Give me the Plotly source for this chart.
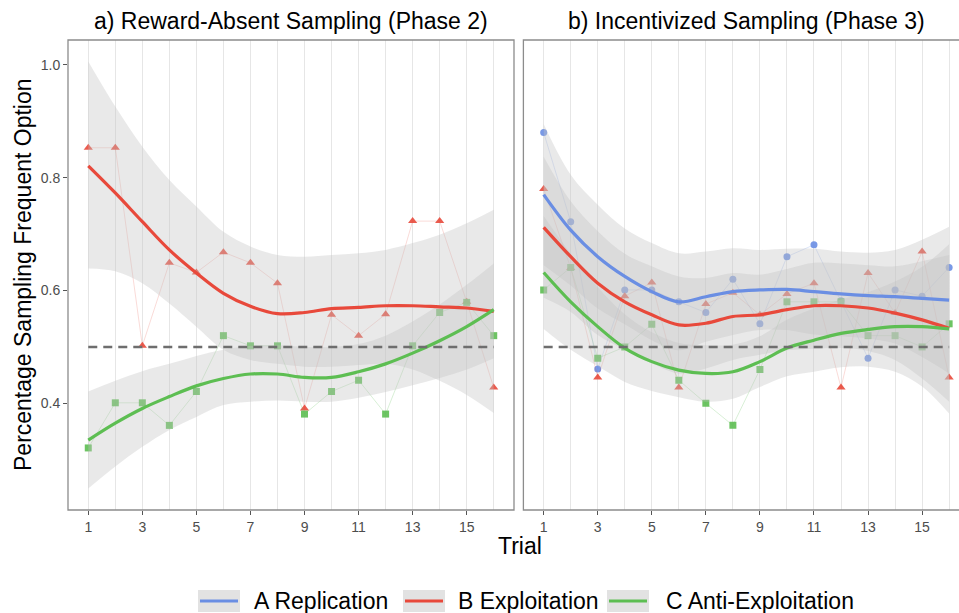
import plotly.graph_objects as go

# ---------------- data ----------------
trials = list(range(1, 17))
tick_vals = [1, 3, 5, 7, 9, 11, 13, 15]
tick_text = ["1", "3", "5", "7", "9", "11", "13", "15"]
y_tick_vals = [0.4, 0.6, 0.8, 1.0]
y_tick_text = ["0.4", "0.6", "0.8", "1.0"]
chance_level = 0.5

series_keys = ["A", "B", "C"]
series_names = ["A Replication", "B Exploitation", "C Anti-Exploitation"]

# Phase 2 (Reward-Absent Sampling): conditions B and C only
p2_B_mean = [0.853, 0.853, 0.502, 0.649, 0.632, 0.668, 0.649, 0.613,
             0.391, 0.557, 0.520, 0.558, 0.723, 0.723, 0.580, 0.428]
p2_C_mean = [0.321, 0.401, 0.401, 0.361, 0.421, 0.520, 0.502, 0.502,
             0.381, 0.421, 0.441, 0.381, 0.502, 0.561, 0.579, 0.520]

p2_B_smooth = [0.821, 0.773, 0.722, 0.672, 0.631, 0.595, 0.572, 0.559,
               0.561, 0.568, 0.570, 0.573, 0.573, 0.571, 0.569, 0.563]
p2_B_upper = [1.006, 0.926, 0.855, 0.796, 0.749, 0.704, 0.678, 0.663,
              0.660, 0.663, 0.666, 0.672, 0.684, 0.699, 0.719, 0.743]
p2_B_lower = [0.639, 0.634, 0.613, 0.577, 0.536, 0.495, 0.477, 0.470,
              0.465, 0.465, 0.468, 0.470, 0.460, 0.440, 0.415, 0.383]

p2_C_smooth = [0.335, 0.365, 0.391, 0.412, 0.431, 0.444, 0.452, 0.452,
               0.446, 0.446, 0.456, 0.470, 0.489, 0.511, 0.536, 0.566]
p2_C_upper = [0.421, 0.440, 0.457, 0.470, 0.484, 0.495, 0.502, 0.503,
              0.500, 0.500, 0.505, 0.520, 0.545, 0.575, 0.610, 0.648]
p2_C_lower = [0.249, 0.288, 0.323, 0.353, 0.376, 0.397, 0.403, 0.405,
              0.403, 0.403, 0.410, 0.420, 0.432, 0.445, 0.460, 0.480]

# Phase 3 (Incentivized Sampling): conditions A, B and C
p3_A_mean = [0.880, 0.722, 0.461, 0.601, 0.601, 0.580, 0.561, 0.620,
             0.541, 0.660, 0.681, 0.582, 0.480, 0.601, 0.590, 0.641]
p3_B_mean = [0.780, 0.640, 0.446, 0.590, 0.614, 0.428, 0.576, 0.596,
             0.557, 0.594, 0.613, 0.428, 0.631, 0.560, 0.669, 0.446]
p3_C_mean = [0.601, 0.641, 0.480, 0.500, 0.540, 0.441, 0.400, 0.361,
             0.460, 0.580, 0.580, 0.580, 0.520, 0.520, 0.500, 0.541]

p3_A_smooth = [0.770, 0.707, 0.660, 0.625, 0.598, 0.580, 0.589, 0.598,
               0.601, 0.602, 0.598, 0.594, 0.591, 0.589, 0.586, 0.583]
p3_A_upper = [0.895, 0.805, 0.752, 0.710, 0.684, 0.666, 0.669, 0.675,
              0.672, 0.674, 0.674, 0.669, 0.667, 0.672, 0.690, 0.713]
p3_A_lower = [0.645, 0.609, 0.568, 0.540, 0.512, 0.494, 0.509, 0.521,
              0.530, 0.530, 0.522, 0.519, 0.515, 0.506, 0.482, 0.453]

p3_B_smooth = [0.712, 0.660, 0.613, 0.580, 0.557, 0.539, 0.542, 0.554,
               0.557, 0.566, 0.573, 0.573, 0.569, 0.560, 0.548, 0.533]
p3_B_upper = [0.837, 0.758, 0.705, 0.665, 0.643, 0.625, 0.622, 0.631,
              0.628, 0.638, 0.649, 0.648, 0.645, 0.643, 0.652, 0.663]
p3_B_lower = [0.587, 0.562, 0.521, 0.495, 0.471, 0.453, 0.462, 0.477,
              0.486, 0.494, 0.497, 0.498, 0.493, 0.477, 0.444, 0.403]

p3_C_smooth = [0.632, 0.580, 0.536, 0.498, 0.474, 0.459, 0.453, 0.456,
               0.474, 0.498, 0.512, 0.524, 0.531, 0.536, 0.536, 0.532]
p3_C_upper = [0.732, 0.665, 0.606, 0.558, 0.526, 0.507, 0.503, 0.504,
              0.519, 0.548, 0.568, 0.584, 0.597, 0.616, 0.642, 0.682]
p3_C_lower = [0.532, 0.495, 0.466, 0.438, 0.422, 0.411, 0.403, 0.408,
              0.429, 0.448, 0.456, 0.464, 0.465, 0.456, 0.430, 0.382]

# ---------------- styles ----------------
colors = {"A": "#6A8EE3", "B": "#E8493B", "C": "#5DBE52"}
thin = {"A": "rgba(106,142,227,0.30)", "B": "rgba(232,73,59,0.25)", "C": "rgba(93,190,82,0.30)"}
symbols = {"A": "circle", "B": "triangle-up", "C": "square"}
band_fill = "rgba(195,195,195,0.36)"
FONT = "Liberation Sans, Arial, Helvetica, sans-serif"

W, H = 959, 613
px_per_trial = 446 / 16.5
left_dom = [68 / W, 514 / W]
right_dom = [523.4 / W, 1.0]
y_dom = [1 - 510 / H, 1 - 40 / H]
x_range_left = [0.25, 16.75]
x_range_right = [0.25, 0.25 + (W - 523.4) / px_per_trial]
y_range = [0.211, 1.044]

fig = go.Figure()

panels = [
    ("x", "y", {"B": (p2_B_mean, p2_B_smooth, p2_B_upper, p2_B_lower),
                "C": (p2_C_mean, p2_C_smooth, p2_C_upper, p2_C_lower)}),
    ("x2", "y2", {"A": (p3_A_mean, p3_A_smooth, p3_A_upper, p3_A_lower),
                  "B": (p3_B_mean, p3_B_smooth, p3_B_upper, p3_B_lower),
                  "C": (p3_C_mean, p3_C_smooth, p3_C_upper, p3_C_lower)}),
]

for xa, ya, groups in panels:
    # raw points with thin connecting lines
    for k, (mean, sm, up, lo) in groups.items():
        fig.add_trace(go.Scatter(
            x=trials, y=mean, xaxis=xa, yaxis=ya, mode="lines",
            line=dict(color=thin[k], width=0.8), showlegend=False, hoverinfo="skip"))
        fig.add_trace(go.Scatter(
            x=trials, y=mean, xaxis=xa, yaxis=ya, mode="markers",
            marker=dict(symbol=symbols[k], color=colors[k], size=7 if k != "B" else 8,
                        opacity=0.9, line=dict(width=0)),
            showlegend=False))
    # confidence ribbons (drawn above points, as in ggplot)
    for k, (mean, sm, up, lo) in groups.items():
        fig.add_trace(go.Scatter(
            x=trials, y=lo, xaxis=xa, yaxis=ya, mode="lines",
            line=dict(width=0, shape="spline", smoothing=1.0, color="rgba(0,0,0,0)"),
            showlegend=False, hoverinfo="skip"))
        fig.add_trace(go.Scatter(
            x=trials, y=up, xaxis=xa, yaxis=ya, mode="lines",
            fill="tonexty", fillcolor=band_fill,
            line=dict(width=0, shape="spline", smoothing=1.0, color="rgba(0,0,0,0)"),
            showlegend=False, hoverinfo="skip"))
    # smooth lines
    for k, (mean, sm, up, lo) in groups.items():
        fig.add_trace(go.Scatter(
            x=trials, y=sm, xaxis=xa, yaxis=ya, mode="lines",
            line=dict(color=colors[k], width=3.2, shape="spline", smoothing=1.0),
            showlegend=False))
    # chance reference line
    fig.add_trace(go.Scatter(
        x=[trials[0], trials[-1]], y=[chance_level, chance_level], xaxis=xa, yaxis=ya,
        mode="lines", line=dict(color="#6E6E6E", width=2.6, dash="9px,6px"),
        showlegend=False, hoverinfo="skip"))

axis_common = dict(
    showline=False, zeroline=False,
    tickfont=dict(family=FONT, size=14, color="#4D4D4D"),
    ticks="outside", ticklen=4, tickcolor="#555555", tickwidth=1,
)

fig.update_layout(
    width=W, height=H,
    paper_bgcolor="white", plot_bgcolor="white",
    margin=dict(l=0, r=0, t=0, b=0),
    font=dict(family=FONT, color="black"),
    showlegend=False,
    xaxis=dict(domain=left_dom, range=x_range_left, anchor="y",
               tickvals=tick_vals, ticktext=tick_text,
               showgrid=False,
               minor=dict(dtick=1, tick0=0, showgrid=True, gridcolor="#E6E6E6", gridwidth=1, ticks=""),
               **axis_common),
    yaxis=dict(domain=y_dom, range=y_range, anchor="x",
               tickvals=y_tick_vals, ticktext=y_tick_text, showgrid=False,
               **axis_common),
    xaxis2=dict(domain=right_dom, range=x_range_right, anchor="y2",
                tickvals=tick_vals, ticktext=tick_text,
                showgrid=False,
                minor=dict(dtick=1, tick0=0, showgrid=True, gridcolor="#E6E6E6", gridwidth=1, ticks=""),
                **axis_common),
    yaxis2=dict(domain=y_dom, range=y_range, anchor="x2", matches="y",
                showticklabels=False, ticks="", showgrid=False, zeroline=False, showline=False),
)

# panel borders
border = dict(color="#8C8C8C", width=1.3)
fig.add_shape(type="rect", xref="paper", yref="paper",
              x0=left_dom[0], x1=left_dom[1], y0=y_dom[0], y1=y_dom[1], line=border, layer="above")
fig.add_shape(type="rect", xref="paper", yref="paper",
              x0=right_dom[0], x1=1.01, y0=y_dom[0], y1=y_dom[1], line=border, layer="above")

# titles
title_font = dict(family=FONT, size=23, color="black")
fig.add_annotation(text="a) Reward-Absent Sampling (Phase 2)", xref="paper", yref="paper",
                   x=(left_dom[0] + left_dom[1]) / 2, y=1 - 21 / H, showarrow=False,
                   font=title_font, xanchor="center", yanchor="middle")
fig.add_annotation(text="b) Incentivized Sampling (Phase 3)", xref="paper", yref="paper",
                   x=(523.4 + 970) / 2 / W, y=1 - 21 / H, showarrow=False,
                   font=title_font, xanchor="center", yanchor="middle")
fig.add_annotation(text="Trial", xref="paper", yref="paper",
                   x=520 / W, y=1 - 546 / H, showarrow=False,
                   font=title_font, xanchor="center", yanchor="middle")
fig.add_annotation(text="Percentage Sampling Frequent Option", xref="paper", yref="paper",
                   x=23 / W, y=1 - 275 / H, showarrow=False, textangle=-90,
                   font=title_font, xanchor="center", yanchor="middle")

# legend (ggplot style: grey ribbon key with coloured line)
legend_key_x = [198, 403, 607]
legend_text_x = [252, 456, 664]
legend_y = 601
for k, name, kx, tx in zip(series_keys, series_names, legend_key_x, legend_text_x):
    fig.add_shape(type="rect", xref="paper", yref="paper",
                  x0=kx / W, x1=(kx + 42) / W, y0=1 - (legend_y + 11) / H, y1=1 - (legend_y - 11) / H,
                  fillcolor="#E2E2E2", line=dict(width=0), layer="above")
    fig.add_shape(type="line", xref="paper", yref="paper",
                  x0=(kx + 2) / W, x1=(kx + 40) / W, y0=1 - legend_y / H, y1=1 - legend_y / H,
                  line=dict(color=colors[k], width=3.2), layer="above")
    fig.add_annotation(text=name, xref="paper", yref="paper", x=tx / W, y=1 - legend_y / H,
                       showarrow=False, font=title_font, xanchor="left", yanchor="middle")

fig.write_html("out.html", post_script="document.body.style.margin='0';",
               config={"displayModeBar": False})
